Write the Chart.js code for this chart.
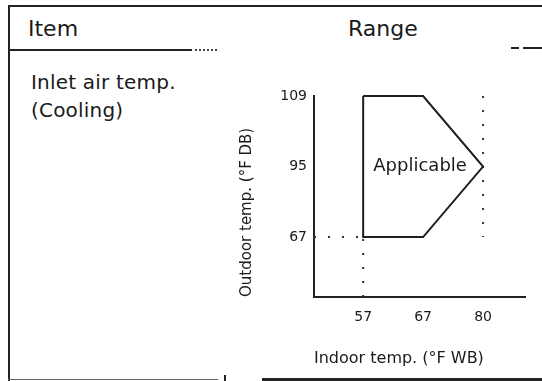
<!DOCTYPE html>
<html>
<head>
<meta charset="utf-8">
<script src="https://cdn.jsdelivr.net/npm/chart.js@4.4.1/dist/chart.umd.min.js"></script>
<style>
  html, body { margin: 0; padding: 0; background: #fff; }
  body {
    width: 542px; height: 381px; position: relative; overflow: hidden;
    font-family: 'DejaVu Sans', sans-serif; color: #1a1a1a;
  }
  .rule { position: absolute; background: #222; }
  .dots { position: absolute; border-top: 2px dotted #444; height: 0; }
  .head { position: absolute; top: 18px; font-size: 22px; line-height: 22px; }
  .item { position: absolute; left: 31px; top: 68px; font-size: 20px; line-height: 28px; letter-spacing: 0.2px; }
  #chartBox { position: absolute; left: 200px; top: 60px; width: 342px; height: 310px; }
</style>
</head>
<body>
  <!-- table frame -->
  <div class="rule" style="left:8px;top:5px;width:534px;height:2px"></div>
  <div class="rule" style="left:8px;top:5px;width:2px;height:376px"></div>
  <div class="rule" style="left:8px;top:49px;width:184px;height:2px"></div>
  <div class="dots" style="left:195px;top:49px;width:22px"></div>
  <div class="rule" style="left:511px;top:47px;width:8px;height:2px"></div>
  <div class="rule" style="left:523px;top:47px;width:19px;height:2px"></div>
  <div class="rule" style="left:8px;top:379px;width:210px;height:1px;background:#666"></div>
  <div class="rule" style="left:224px;top:375px;width:2px;height:6px"></div>
  <div class="rule" style="left:262px;top:378px;width:280px;height:3px"></div>

  <div class="head" style="left:28px">Item</div>
  <div class="head" style="left:348px">Range</div>
  <div class="item">Inlet air temp.<br>(Cooling)</div>

  <div id="chartBox"><canvas id="rangeChart" width="342" height="310"></canvas></div>

<script>
// tick labels (axes are evenly spaced, not to scale)
const xLabels = ['57', '67', '80'];    // indoor temp. °F WB
const yLabels = ['67', '95', '109'];   // outdoor temp. °F DB

// operating range outline, corner by corner
const rangeX = ['57', '67', '80', '67', '57', '57'];
const rangeY = ['109', '109', '95', '67', '67', '109'];
const rangeText = 'Applicable';
const rangeTextAt = ['67', '95'];

// dashed reference lines [x1, y1, x2, y2]; null = axis edge
const guides = [
  [null, '67', '57', '67'],
  ['57', null, '57', '67'],
  ['80', '109', '80', '67']
];

const X_MIN = -0.82, X_MAX = 2.7;
const Y_MIN = -0.85, Y_MAX = 2;
const FONT = 'DejaVu Sans';
const INK = '#1a1a1a';

const xi = v => v === null ? X_MIN : xLabels.indexOf(v);
const yi = v => v === null ? Y_MIN : yLabels.indexOf(v);

const outline = rangeX.map((x, i) => ({ x: xi(x), y: yi(rangeY[i]) }));

const guideSets = guides.map(g => ({
  data: [{ x: xi(g[0]), y: yi(g[1]) }, { x: xi(g[2]), y: yi(g[3]) }],
  showLine: true,
  borderColor: '#333',
  borderWidth: 2,
  borderDash: [2, 12],
  pointRadius: 0,
  clip: false
}));

// writes the region name inside the outline
const rangeLabel = {
  id: 'rangeLabel',
  afterDatasetsDraw(chart) {
    const { ctx, scales } = chart;
    ctx.save();
    ctx.font = '18px "' + FONT + '"';
    ctx.fillStyle = INK;
    ctx.textAlign = 'center';
    ctx.textBaseline = 'middle';
    ctx.fillText(rangeText,
      scales.x.getPixelForValue(xi(rangeTextAt[0])) - 3,
      scales.y.getPixelForValue(yi(rangeTextAt[1])));
    ctx.restore();
  }
};

new Chart(document.getElementById('rangeChart'), {
  type: 'scatter',
  data: {
    datasets: [{
      data: outline,
      showLine: true,
      borderColor: '#1f1f1f',
      borderWidth: 2,
      pointRadius: 0,
      tension: 0,
      clip: false
    }, ...guideSets]
  },
  options: {
    responsive: false,
    animation: false,
    layout: { padding: { left: 0, top: 36, right: 17, bottom: 0 } },
    plugins: { legend: { display: false }, tooltip: { enabled: false } },
    scales: {
      x: {
        type: 'linear',
        min: X_MIN,
        max: X_MAX,
        grid: { display: false, drawTicks: false },
        border: { display: true, color: '#222', width: 2 },
        afterBuildTicks: s => { s.ticks = xLabels.map((_, i) => ({ value: i })); },
        afterFit: s => { s.height = 73; },
        ticks: {
          padding: 12,
          color: INK,
          font: { family: FONT, size: 14 },
          callback: v => xLabels[v]
        },
        title: {
          display: true,
          text: 'Indoor temp. (°F WB)',
          align: 'start',
          color: INK,
          font: { family: FONT, size: 16 },
          padding: { top: 0, bottom: 2 }
        }
      },
      y: {
        type: 'linear',
        min: Y_MIN,
        max: Y_MAX,
        grid: { display: false, drawTicks: false },
        border: { display: true, color: '#222', width: 2 },
        afterBuildTicks: s => { s.ticks = yLabels.map((_, i) => ({ value: i })); },
        afterFit: s => { s.width = 114; },
        ticks: {
          padding: 7,
          color: INK,
          font: { family: FONT, size: 14 },
          callback: v => yLabels[v]
        },
        title: {
          display: true,
          text: 'Outdoor temp. (°F DB)',
          align: 'start',
          color: INK,
          font: { family: FONT, size: 15 },
          padding: { top: 38, bottom: 0 }
        }
      }
    }
  },
  plugins: [rangeLabel]
});
</script>
</body>
</html>
